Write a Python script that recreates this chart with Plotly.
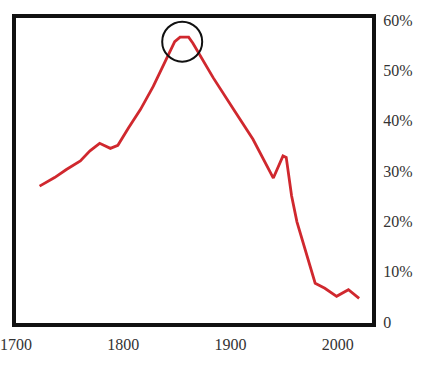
import plotly.graph_objects as go

years = [1722, 1736, 1747, 1760, 1769, 1778, 1788, 1795, 1805, 1816, 1828, 1840,
         1848, 1853, 1861, 1865, 1884, 1903, 1921, 1940, 1949, 1952, 1957, 1962,
         1969, 1979, 1988, 1999, 2010, 2020]
share = [27.0, 28.7, 30.3, 32.0, 34.0, 35.5, 34.5, 35.1, 38.6, 42.2, 46.8, 52.1,
         55.7, 56.6, 56.6, 55.4, 48.5, 42.2, 36.3, 28.6, 33.0, 32.7, 25.1, 19.9,
         14.9, 7.7, 6.7, 5.1, 6.4, 4.7]

x_ticks = [1700, 1800, 1900, 2000]
y_ticks = [0, 10, 20, 30, 40, 50, 60]
y_labels = ["0", "10%", "20%", "30%", "40%", "50%", "60%"]

peak_year, peak_val = 1855, 55.7

fig = go.Figure()
fig.add_trace(go.Scatter(x=years, y=share, mode="lines",
                         line=dict(color="#d0282e", width=2.8), hoverinfo="skip"))

fig.add_shape(type="circle", xref="x", yref="y", xsizemode="pixel", ysizemode="pixel",
              xanchor=peak_year, yanchor=peak_val, x0=-20, x1=20, y0=-20, y1=20,
              line=dict(color="#111111", width=2))

font = dict(family="Liberation Serif, Times New Roman, serif", size=16, color="#333333")

fig.update_layout(
    width=434, height=370,
    margin=dict(l=16, r=62, t=18, b=47),
    paper_bgcolor="white", plot_bgcolor="white",
    showlegend=False,
    font=font,
    xaxis=dict(range=[1700, 2032], tickvals=x_ticks, ticktext=[str(v) for v in x_ticks],
               showgrid=False, zeroline=False, showline=True, mirror=True, automargin=False,
               ticklabeloverflow="allow",
               linecolor="#111111", linewidth=4, ticks="outside", ticklen=4,
               tickcolor="rgba(0,0,0,0)", tickfont=font),
    yaxis=dict(range=[-0.2, 60.4], side="right", tickvals=y_ticks, ticktext=y_labels,
               showgrid=False, zeroline=False, showline=True, mirror=True, automargin=False,
               ticklabeloverflow="allow",
               linecolor="#111111", linewidth=4, ticks="outside", ticklen=4,
               tickcolor="rgba(0,0,0,0)", tickfont=font),
)

fig.write_html("out.html")
